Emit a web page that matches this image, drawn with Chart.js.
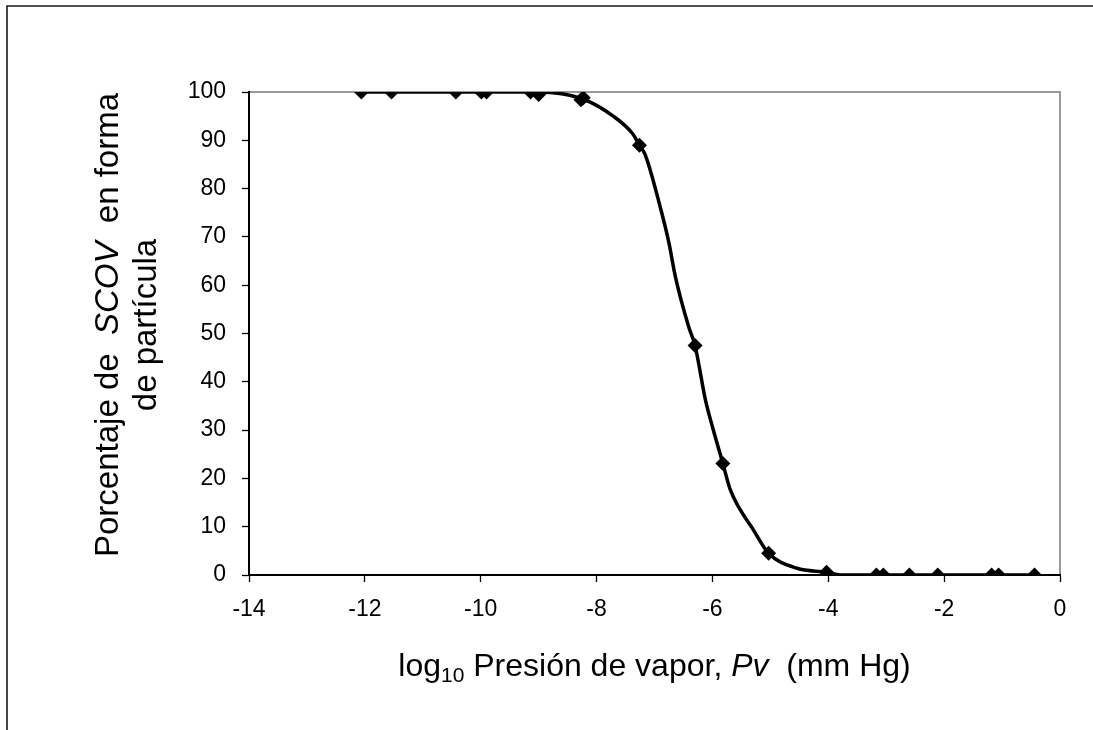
<!DOCTYPE html>
<html>
<head>
<meta charset="utf-8">
<script src="https://cdn.jsdelivr.net/npm/chart.js@4/dist/chart.umd.min.js"></script>
<style>
  html, body { margin: 0; padding: 0; background: #fff; }
  canvas { display: block; }
</style>
</head>
<body>
<canvas id="c" width="1093" height="730"></canvas>
<script>
// Measured compounds: log10 vapour pressure (mm Hg) and % in particle form
const dataLogPv = [-12.06, -11.54, -10.43, -9.99, -9.90, -9.14, -9.00, -8.27, -8.23,
                   -7.26, -6.30, -5.82, -5.03, -4.03, -3.17, -3.05, -2.60, -2.11,
                   -1.18, -1.06, -0.44];
const dataPct    = [100, 100, 100, 100, 100, 100, 99.5, 98.4, 98.8,
                    89.0, 47.5, 23.1, 4.5, 0.55, 0, 0, 0, 0,
                    0, 0, 0];

// Partitioning curve
const curveLogPv = [-12.06, -9.00, -8.25, -7.70, -7.38, -7.26, -7.16, -6.88, -6.75,
                    -6.64, -6.41, -6.30, -6.12, -6.00, -5.82, -5.69, -5.29, -5.03,
                    -4.54, -4.03, -3.79, -0.44];
const curvePct   = [100, 100, 98.6, 94.9, 91.4, 89.0, 87.0, 75.2, 68.7,
                    61.8, 51.4, 47.5, 36.2, 30.7, 23.1, 17.6, 9.3, 4.5,
                    1.4, 0.55, 0, 0];

const xTicks = [-14, -12, -10, -8, -6, -4, -2, 0];
const yTicks = [0, 10, 20, 30, 40, 50, 60, 70, 80, 90, 100];

const FONT = '"Liberation Sans", Arial, sans-serif';

// Outer frame, plot border and axis titles with italic / subscript parts
const decor = {
  id: 'decor',
  beforeDraw(chart) {
    const ctx = chart.ctx;
    ctx.save();
    ctx.fillStyle = '#fff';
    ctx.fillRect(0, 0, chart.width, chart.height);
    ctx.strokeStyle = '#1a1a1a';
    ctx.lineWidth = 1.6;
    ctx.beginPath();
    ctx.moveTo(7, chart.height);
    ctx.lineTo(7, 6);
    ctx.lineTo(chart.width, 6);
    ctx.stroke();
    const a = chart.chartArea;
    ctx.strokeStyle = '#999';
    ctx.lineWidth = 2;
    ctx.beginPath();
    ctx.moveTo(a.left, a.top);
    ctx.lineTo(a.right, a.top);
    ctx.lineTo(a.right, a.bottom);
    ctx.stroke();
    ctx.restore();
  },
  afterDraw(chart) {
    const ctx = chart.ctx;
    const a = chart.chartArea;
    const big = '32px ' + FONT;
    const ital = 'italic 32px ' + FONT;
    const sub = '21px ' + FONT;
    const bigY = '33px ' + FONT;
    const italY = 'italic 33px ' + FONT;

    function drawRun(parts, cx, cy) {
      let total = 0;
      parts.forEach(p => { ctx.font = p.f; p.w = ctx.measureText(p.t).width; total += p.w; });
      let x = cx - total / 2;
      ctx.textAlign = 'left';
      ctx.textBaseline = 'alphabetic';
      parts.forEach(p => {
        ctx.font = p.f;
        ctx.fillText(p.t, x, cy + (p.dy || 0));
        x += p.w;
      });
    }

    ctx.save();
    ctx.fillStyle = '#000';
    // x-axis title
    drawRun([
      { t: 'log', f: big },
      { t: '10', f: sub, dy: 6 },
      { t: ' Presión de vapor, ', f: big },
      { t: 'Pv', f: ital },
      { t: '  (mm Hg)', f: big }
    ], (a.left + a.right) / 2, 676);

    // y-axis title (two lines, rotated)
    const cy = 325;
    ctx.save();
    ctx.translate(118, cy);
    ctx.rotate(-Math.PI / 2);
    drawRun([
      { t: 'Porcentaje de  ', f: bigY },
      { t: 'SCOV', f: italY },
      { t: '  en forma', f: bigY }
    ], 0, 0);
    ctx.restore();
    ctx.save();
    ctx.translate(156, cy);
    ctx.rotate(-Math.PI / 2);
    drawRun([{ t: 'de partícula', f: bigY }], 0, 0);
    ctx.restore();
    ctx.restore();
  }
};

new Chart(document.getElementById('c'), {
  type: 'scatter',
  data: {
    datasets: [
      {
        label: 'curva',
        data: curveLogPv.map((x, i) => ({ x, y: curvePct[i] })),
        showLine: true,
        borderColor: '#000',
        borderWidth: 3.5,
        pointRadius: 0,
        cubicInterpolationMode: 'monotone',
        order: 2
      },
      {
        label: 'datos',
        data: dataLogPv.map((x, i) => ({ x, y: dataPct[i] })),
        showLine: false,
        pointStyle: 'rectRot',
        pointRadius: 7.5,
        backgroundColor: '#000',
        borderColor: '#000',
        borderWidth: 0,
        order: 1
      }
    ]
  },
  options: {
    responsive: false,
    animation: false,
    devicePixelRatio: 1,
    layout: { padding: { left: 0, top: 92, right: 33, bottom: 0 } },
    plugins: { legend: { display: false }, tooltip: { enabled: false } },
    scales: {
      x: {
        type: 'linear',
        min: -14, max: 0,
        afterBuildTicks(s) { s.ticks = xTicks.map(v => ({ value: v })); },
        afterFit(s) { s.height = 155; },
        border: { display: true, color: '#000', width: 2 },
        grid: { drawOnChartArea: false, drawTicks: true, tickLength: 7, color: '#000', tickWidth: 1.3 },
        ticks: { color: '#000', font: { family: FONT, size: 23 }, padding: 14, maxRotation: 0 }
      },
      y: {
        type: 'linear',
        min: 0, max: 100,
        afterBuildTicks(s) { s.ticks = yTicks.map(v => ({ value: v })); },
        afterFit(s) { s.width = 249; },
        border: { display: true, color: '#000', width: 2 },
        grid: { drawOnChartArea: false, drawTicks: true, tickLength: 7, color: '#000', tickWidth: 1.3 },
        ticks: { color: '#000', font: { family: FONT, size: 23 }, padding: 16 }
      }
    }
  },
  plugins: [decor]
});
</script>
</body>
</html>
